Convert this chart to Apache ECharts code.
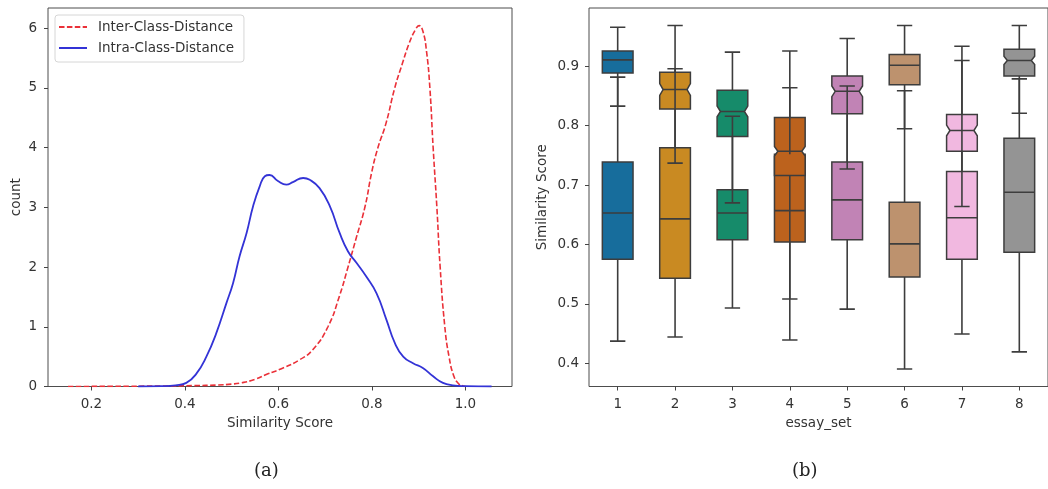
<!DOCTYPE html>
<html>
<head>
<meta charset="utf-8">
<script src="https://cdn.jsdelivr.net/npm/echarts@6/dist/echarts.min.js"></script>
<style>
html,body{margin:0;padding:0;background:#fff;}
#chart{width:1048px;height:489px;}
</style>
</head>
<body>
<div id="chart"></div>
<script>
// ---------- (a) KDE curves ----------
const interX = [0.15,0.25,0.35,0.42,0.47,0.50,0.52,0.55,0.574,0.61,0.646,0.674,0.706,0.73,0.749,0.767,0.785,0.80,0.813,0.83,0.849,0.865,0.88,0.893,0.901,0.909,0.917,0.924,0.931,0.939,0.946,0.956,0.965,0.975,0.985,0.995,1.0];
const interY = [0,0.003,0.008,0.015,0.025,0.04,0.06,0.12,0.2,0.31,0.45,0.62,1.0,1.5,2.0,2.5,3.0,3.6,4.0,4.4,5.0,5.4,5.75,5.97,6.04,5.95,5.6,5.0,4.0,3.0,2.0,1.0,0.5,0.18,0.05,0.01,0];
const intraX = [0.30,0.35,0.38,0.403,0.425,0.446,0.467,0.489,0.503,0.517,0.532,0.546,0.560,0.571,0.581,0.599,0.617,0.631,0.653,0.667,0.688,0.71,0.731,0.749,0.767,0.788,0.81,0.831,0.849,0.867,0.888,0.909,0.931,0.952,0.973,1.0,1.056];
const intraY = [0,0.005,0.02,0.06,0.22,0.50,0.89,1.40,1.73,2.18,2.57,3.02,3.35,3.52,3.54,3.44,3.38,3.42,3.49,3.46,3.32,3.02,2.57,2.26,2.07,1.84,1.56,1.12,0.73,0.50,0.39,0.31,0.17,0.06,0.02,0.005,0];
const seriesNames = ['Inter-Class-Distance','Intra-Class-Distance'];
const xTicksA = [0.2,0.4,0.6,0.8,1.0];
const yTicksA = [0,1,2,3,4,5,6];

// ---------- (b) box plots per essay set: [low whisker, q1, median, q3, high whisker] ----------
const essaySets = ['1','2','3','4','5','6','7','8'];
const interBox = [
  [0.833,0.889,0.911,0.926,0.966],
  [0.737,0.828,0.861,0.890,0.969],
  [0.670,0.782,0.824,0.860,0.924],
  [0.508,0.716,0.757,0.814,0.926],
  [0.727,0.820,0.858,0.884,0.947],
  [0.795,0.869,0.902,0.920,0.969],
  [0.664,0.757,0.792,0.819,0.934],
  [0.821,0.884,0.910,0.929,0.969]
];
const intraBox = [
  [0.437,0.575,0.653,0.739,0.882],
  [0.444,0.543,0.643,0.763,0.896],
  [0.493,0.608,0.653,0.692,0.816],
  [0.439,0.604,0.657,0.752,0.864],
  [0.491,0.608,0.675,0.739,0.867],
  [0.390,0.545,0.601,0.671,0.859],
  [0.449,0.575,0.645,0.723,0.910],
  [0.419,0.587,0.688,0.779,0.879]
];
// notch half-height (median confidence interval) of the upper boxes
const interNotch = [0, 0.010, 0.009, 0.008, 0.009, 0, 0.009, 0.007];
const intraNotch = [0, 0, 0, 0, 0, 0, 0, 0];
const yTicksB = [0.4,0.5,0.6,0.7,0.8,0.9];

// ---------- styles ----------
const palette = ['#176d9c','#c98a22','#168b6a','#bc621d','#c183b5','#bd926e','#f1b8e0','#949494'];
const edge = '#3d3d3d';
const txt = '#333';
const FONT = 'DejaVu Sans';
const FS = 13.5;

function rows(boxes, notch) {
  return boxes.map((b, i) => [i, b[0], b[1], b[2], b[3], b[4], notch[i]]);
}
const boxData = rows(intraBox, intraNotch).concat(rows(interBox, interNotch));

function geom(api) {
  const i = api.value(0);
  const med = api.value(3);
  const c = api.coord([i, med]);
  const bw = api.size([1, 0])[0] * 0.535;
  return {
    i, x: c[0], half: bw / 2, bw, ymed: c[1],
    ylow: api.coord([i, api.value(1)])[1],
    yq1: api.coord([i, api.value(2)])[1],
    yq3: api.coord([i, api.value(4)])[1],
    yhigh: api.coord([i, api.value(5)])[1],
    n: api.value(6),
    yn1: api.coord([i, med + api.value(6)])[1],
    yn2: api.coord([i, med - api.value(6)])[1]
  };
}

function renderBox(params, api) {
  const g = geom(api);
  const L = g.x - g.half, R = g.x + g.half;
  let pts;
  if (g.n > 0) {
    const ind = g.bw * 0.11;
    pts = [[L,g.yq3],[R,g.yq3],[R,g.yn1],[R-ind,g.ymed],[R,g.yn2],[R,g.yq1],[L,g.yq1],[L,g.yn2],[L+ind,g.ymed],[L,g.yn1]];
  } else {
    pts = [[L,g.yq3],[R,g.yq3],[R,g.yq1],[L,g.yq1]];
  }
  return {
    type: 'polygon',
    shape: { points: pts },
    style: { fill: palette[g.i], stroke: edge, lineWidth: 1.5 }
  };
}

function renderLines(params, api) {
  const g = geom(api);
  const cap = g.half / 2;
  const ind = g.n > 0 ? g.bw * 0.11 : 0;
  const st = { stroke: edge, lineWidth: 1.6 };
  const ln = (x1, y1, x2, y2) => ({ type: 'line', shape: { x1, y1, x2, y2 }, style: st });
  return {
    type: 'group',
    children: [
      ln(g.x, g.yq1, g.x, g.ylow),
      ln(g.x, g.yq3, g.x, g.yhigh),
      ln(g.x - cap, g.ylow, g.x + cap, g.ylow),
      ln(g.x - cap, g.yhigh, g.x + cap, g.yhigh),
      ln(g.x - g.half + ind, g.ymed, g.x + g.half - ind, g.ymed)
    ]
  };
}

const axisText = { color: txt, fontFamily: FONT, fontSize: FS };
const tick = { show: true, inside: false, length: 4, lineStyle: { color: '#444', width: 1 } };

const chart = echarts.init(document.getElementById('chart'), null, { renderer: 'canvas' });
chart.setOption({
  animation: false,
  backgroundColor: '#fff',
  grid: [
    { left: 48, top: 8, width: 464, height: 378.5, show: true, borderColor: '#4d4d4d', borderWidth: 1, backgroundColor: 'transparent' },
    { left: 589, top: 8, width: 464, height: 378.5, show: true, borderColor: '#4d4d4d', borderWidth: 1, backgroundColor: 'transparent' }
  ],
  legend: {
    data: seriesNames,
    orient: 'vertical',
    left: 55, top: 15,
    itemWidth: 28, itemHeight: 14, itemGap: 7,
    padding: [5, 10, 7, 3],
    borderColor: '#d6d6d6', borderWidth: 1, borderRadius: 3,
    backgroundColor: 'rgba(255,255,255,0.8)',
    itemStyle: { opacity: 0 },
    textStyle: { color: txt, fontFamily: FONT, fontSize: FS, padding: [0, 0, 0, 6] }
  },
  xAxis: [
    {
      type: 'value', gridIndex: 0, min: 0.1072, max: 1.0997,
      name: 'Similarity Score', nameLocation: 'middle', nameGap: 29,
      nameTextStyle: axisText,
      axisLine: { show: false },
      axisTick: Object.assign({ customValues: xTicksA }, tick),
      axisLabel: Object.assign({ customValues: xTicksA, margin: 11, formatter: v => Number(v).toFixed(1) }, axisText),
      splitLine: { show: false }
    },
    {
      type: 'category', gridIndex: 1, data: essaySets, boundaryGap: true,
      name: 'essay_set', nameLocation: 'middle', nameGap: 29,
      nameTextStyle: axisText,
      axisLine: { show: false },
      axisTick: Object.assign({ alignWithLabel: true }, tick),
      axisLabel: Object.assign({ margin: 11 }, axisText),
      splitLine: { show: false }
    }
  ],
  yAxis: [
    {
      type: 'value', gridIndex: 0, min: 0, max: 6.335,
      name: 'count', nameLocation: 'middle', nameGap: 25,
      nameTextStyle: axisText,
      axisLine: { show: false },
      axisTick: Object.assign({ customValues: yTicksA }, tick),
      axisLabel: Object.assign({ customValues: yTicksA, margin: 11, formatter: v => String(Math.round(v)) }, axisText),
      splitLine: { show: false }
    },
    {
      type: 'value', gridIndex: 1, min: 0.3606, max: 0.9984,
      name: 'Similarity Score', nameLocation: 'middle', nameGap: 40,
      nameTextStyle: axisText,
      axisLine: { show: false },
      axisTick: Object.assign({ customValues: yTicksB }, tick),
      axisLabel: Object.assign({ customValues: yTicksB, margin: 10, formatter: v => Number(v).toFixed(1) }, axisText),
      splitLine: { show: false }
    }
  ],
  series: [
    {
      name: seriesNames[0], type: 'line', xAxisIndex: 0, yAxisIndex: 0,
      data: interX.map((x, i) => [x, interY[i]]),
      smooth: 0.5, symbol: 'none', showSymbol: false,
      lineStyle: { color: '#ea3038', width: 1.6, type: [5.5, 2.4] },
      itemStyle: { color: '#ea3038' }, z: 2
    },
    {
      name: seriesNames[1], type: 'line', xAxisIndex: 0, yAxisIndex: 0,
      data: intraX.map((x, i) => [x, intraY[i]]),
      smooth: 0.5, symbol: 'none', showSymbol: false,
      lineStyle: { color: '#3333d6', width: 1.8 },
      itemStyle: { color: '#3333d6' }, z: 3
    },
    {
      name: 'boxes', type: 'custom', xAxisIndex: 1, yAxisIndex: 1,
      renderItem: renderBox, data: boxData,
      encode: { x: 0, y: [1, 2, 3, 4, 5] }, clip: true, z: 2
    },
    {
      name: 'whiskers', type: 'custom', xAxisIndex: 1, yAxisIndex: 1,
      renderItem: renderLines, data: boxData,
      encode: { x: 0, y: [1, 2, 3, 4, 5] }, clip: true, z: 3
    }
  ],
  graphic: [
    { type: 'text', left: 254, top: 462, style: { text: '(a)', fill: '#222', fontFamily: 'DejaVu Serif', fontSize: 18 } },
    { type: 'text', left: 792, top: 462, style: { text: '(b)', fill: '#222', fontFamily: 'DejaVu Serif', fontSize: 18 } }
  ]
});
</script>
</body>
</html>
